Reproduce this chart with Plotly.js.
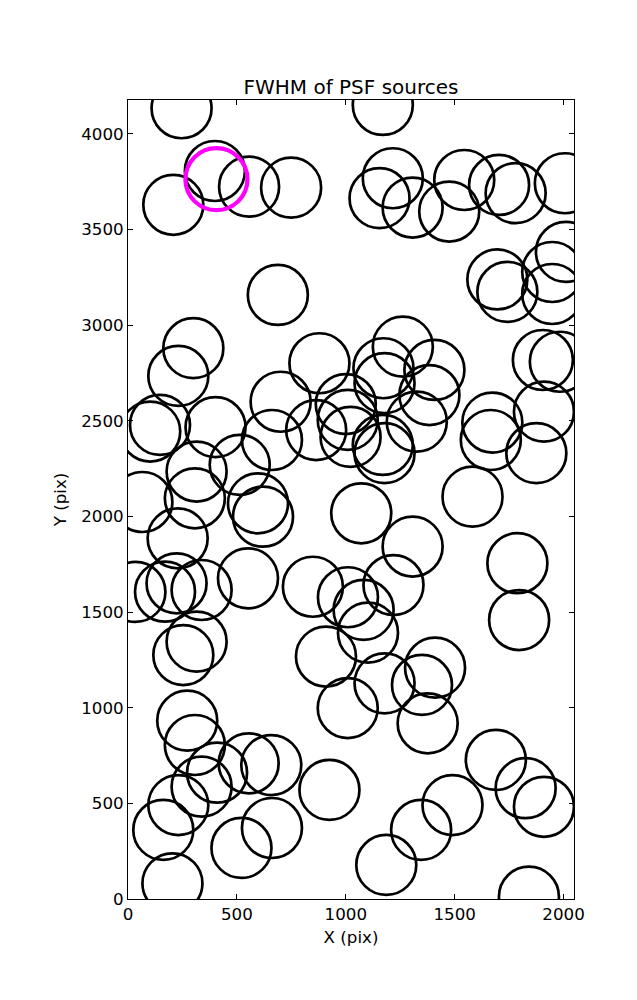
<!DOCTYPE html>
<html>
<head>
<meta charset="utf-8">
<script src="https://cdn.plot.ly/plotly-3.0.1.min.js"></script>
<style>html,body{margin:0;padding:0;background:#fff;}#chart{width:637px;height:1000px;}</style>
</head>
<body>
<div id="chart"></div>
<script>
// Source positions (pixels on the detector)
const srcX = [246,1170,399,208,556,749,688,1216,1155,1307,1544,1475,1704,1780,2006,1696,1742,1948,1948,2011,
  300,231,147,102,402,315,307,513,661,701,879,864,1000,1009,1022,66,1262,1173,1407,1178,1384,1326,1170,1178,
  1905,1983,1910,1673,1666,1875,1582,1071,597,620,228,223,170,34,338,551,849,1010,315,254,909,1307,1219,1082,1102,
  1788,1796,1410,1350,1178,1009,1376,272,307,409,338,231,162,204,554,658,925,661,521,1689,1826,1910,1490,1346,1186,1841];
const srcY = [4133,4150,3805,3628,3723,3718,3157,3767,3663,3614,3758,3593,3732,3689,3741,3238,3173,3277,3162,3382,
  2879,2734,2478,2443,2466,2234,2094,2269,2399,2599,2800,2451,2587,2504,2415,2075,2887,2774,2765,2696,2634,2495,2373,2330,
  2817,2808,2547,2490,2399,2330,2103,2016,2068,1998,1885,1650,1606,1605,1615,1676,1632,1577,1345,1275,1267,1842,1641,1511,1392,
  1755,1458,1209,1119,1127,998,918,932,805,660,587,491,361,82,709,700,570,371,267,727,579,482,491,361,178,12];
// Highlighted source
const hiX = [406];
const hiY = [3762];

const xTicks = [0,500,1000,1500,2000];
const yTicks = [0,500,1000,1500,2000,2500,3000,3500,4000];

const font = {family: 'DejaVu Sans, sans-serif', size: 16.7, color: '#000'};

const traces = [
  {x: srcX, y: srcY, type: 'scatter', mode: 'markers', hoverinfo: 'x+y',
   marker: {symbol: 'circle-open', size: 60, color: '#000', line: {width: 2.7, color: '#000'}}},
  {x: hiX, y: hiY, type: 'scatter', mode: 'markers', hoverinfo: 'x+y',
   marker: {symbol: 'circle-open', size: 62, color: '#ff00ff', line: {width: 4.2, color: '#ff00ff'}}}
];

const axisCommon = {
  showgrid: false, zeroline: false, showline: true, linecolor: '#000', linewidth: 1,
  mirror: 'allticks', ticks: 'inside', ticklen: 5, tickwidth: 1, tickcolor: '#000',
  tickfont: font, automargin: false
};

const layout = {
  width: 637, height: 1000,
  margin: {l: 127.5, r: 63, t: 100, b: 101},
  paper_bgcolor: '#fff', plot_bgcolor: '#fff',
  showlegend: false,
  font: font,
  title: {text: 'FWHM of PSF sources', font: {family: 'DejaVu Sans, sans-serif', size: 20, color: '#000'},
          x: 0.5, xref: 'paper', y: 1, yref: 'paper', yanchor: 'bottom', pad: {b: 6}},
  xaxis: Object.assign({}, axisCommon, {range: [0, 2048], tickvals: xTicks, ticktext: xTicks.map(String),
          title: {text: 'X (pix)', font: font, standoff: 8}}),
  yaxis: Object.assign({}, axisCommon, {range: [0, 4176], tickvals: yTicks, ticktext: yTicks.map(String),
          title: {text: 'Y (pix)', font: font, standoff: 10}})
};

Plotly.newPlot('chart', traces, layout, {displayModeBar: false, staticPlot: true});
</script>
</body>
</html>
